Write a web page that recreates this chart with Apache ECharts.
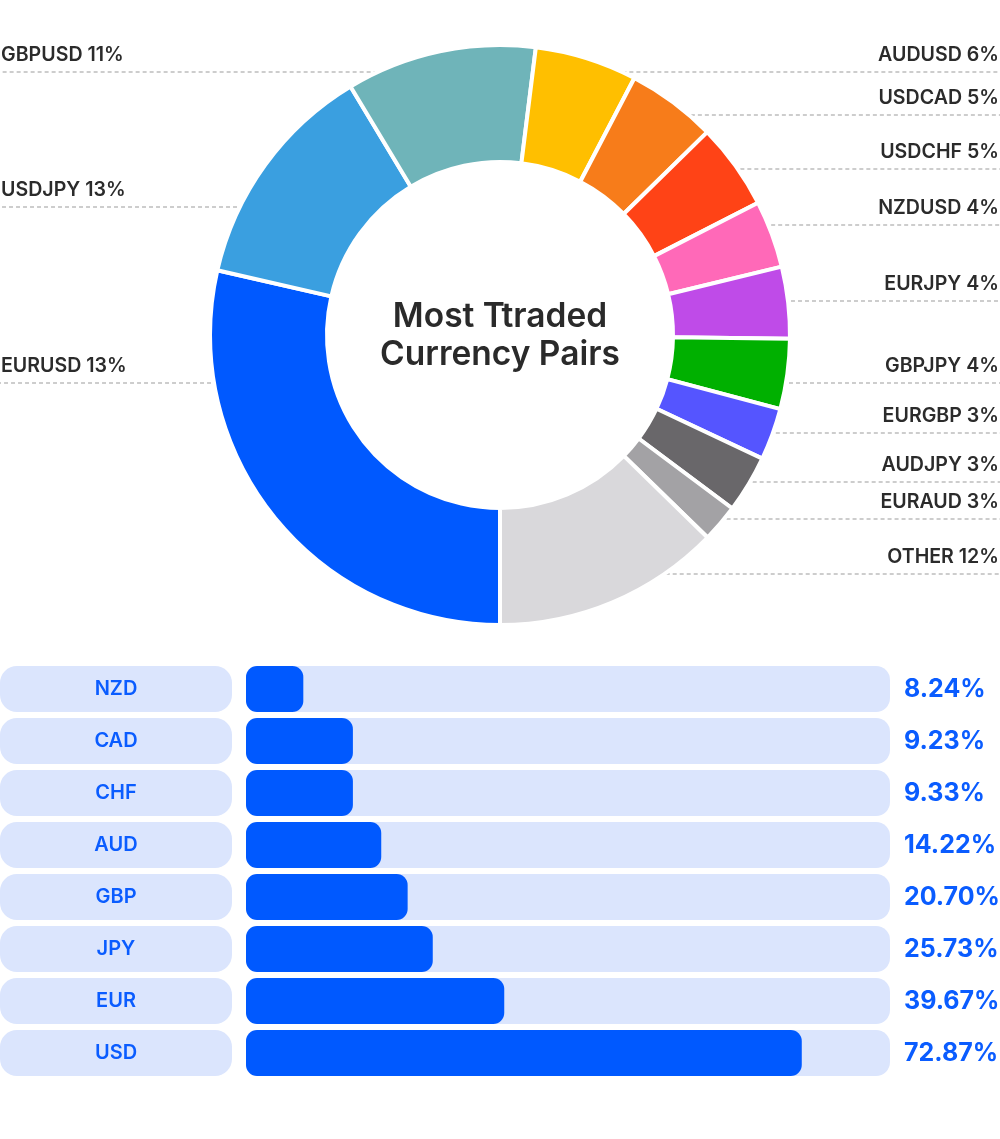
<!DOCTYPE html>
<html>
<head>
<meta charset="utf-8">
<title>Most Traded Currency Pairs</title>
<script src="https://cdn.jsdelivr.net/npm/echarts@6/dist/echarts.min.js"></script>
<style>
    html, body { margin: 0; padding: 0; background: #ffffff; }
    #chart { width: 1000px; height: 1139px; }
</style>
</head>
<body>
<div id="chart"></div>
<script>
// donut: share of each pair
const pairNames = ["EURUSD", "USDJPY", "GBPUSD", "AUDUSD", "USDCAD", "USDCHF", "NZDUSD",
    "EURJPY", "GBPJPY", "EURGBP", "AUDJPY", "EURAUD", "OTHER"];
const pairShares = [28.6, 12.8, 10.6, 5.7, 5.0, 4.8, 3.75, 4.0, 3.9, 2.9, 3.2, 2.1, 12.7];
// percentages printed next to each pair
const pairLabels = [13, 13, 11, 6, 5, 5, 4, 4, 4, 3, 3, 3, 12];
const pairColors = ["#0059ff", "#3a9fe0", "#6fb4b9", "#ffbf00", "#f77c1a", "#ff4316", "#ff69b8",
    "#bf4be8", "#00b000", "#5555ff", "#69676a", "#a3a2a5", "#d9d8db"];

// bars: currencies
const currencies = ["NZD", "CAD", "CHF", "AUD", "GBP", "JPY", "EUR", "USD"];
const barLengths = [8.9, 16.6, 16.6, 21.0, 25.1, 29.0, 40.1, 86.3];
const currencyLabels = ["8.24%", "9.23%", "9.33%", "14.22%", "20.70%", "25.73%", "39.67%", "72.87%"];

const PIE_CX = 500;
const PIE_CY = 335;
const PIE_R = 288;
// height of each dashed leader line, in data order
const leaderY = [383, 207, 72, 72, 115, 169, 225, 301, 383, 433, 482, 519, 574];

const FONT = "Inter, 'Noto Sans', sans-serif";
const BLUE = "#0a5cff";
const PALE = "#dbe5fd";

const chart = echarts.init(document.getElementById("chart"), null, { renderer: "canvas" });

chart.setOption({
    backgroundColor: "#ffffff",
    textStyle: { fontFamily: FONT },
    animation: false,
    title: {
        text: "Most Ttraded\nCurrency Pairs",
        left: PIE_CX,
        top: 298,
        padding: 0,
        textAlign: "center",
        textStyle: {
            fontFamily: FONT,
            fontSize: 33.5,
            fontWeight: 600,
            lineHeight: 38,
            color: "#2a2a2a"
        }
    },
    grid: {
        left: 246,
        right: 110,
        top: 663,
        height: 416,
        outerBoundsMode: "none"
    },
    xAxis: {
        type: "value",
        min: 0,
        max: 100,
        show: false
    },
    yAxis: [
        {
            type: "category",
            inverse: true,
            data: currencies,
            axisLine: { show: false },
            axisTick: { show: false },
            axisLabel: {
                margin: 14,
                formatter: value => `{pill|${value}}`,
                rich: {
                    pill: {
                        width: 232,
                        height: 46,
                        align: "center",
                        backgroundColor: PALE,
                        borderRadius: 17,
                        color: BLUE,
                        fontFamily: FONT,
                        fontSize: 20,
                        fontWeight: 600
                    }
                }
            }
        },
        {
            type: "category",
            inverse: true,
            position: "right",
            data: currencies,
            axisLine: { show: false },
            axisTick: { show: false },
            axisLabel: {
                margin: 14,
                formatter: (value, index) => currencyLabels[index],
                color: BLUE,
                fontFamily: FONT,
                fontSize: 25,
                fontWeight: 700
            }
        }
    ],
    series: [
        {
            name: "Pairs",
            type: "pie",
            center: [PIE_CX, PIE_CY],
            radius: [173, PIE_R + 2],
            startAngle: -90,
            clockwise: true,
            avoidLabelOverlap: false,
            itemStyle: {
                borderColor: "#ffffff",
                borderWidth: 4
            },
            label: {
                show: true,
                position: "outside",
                formatter: params => `${params.name} ${pairLabels[params.dataIndex]}%`,
                color: "#2b2b2b",
                fontFamily: FONT,
                fontSize: 19.6,
                fontWeight: 600
            },
            labelLine: {
                show: true,
                length: 4,
                length2: 4,
                lineStyle: {
                    color: "#bdbdbd",
                    width: 1.3,
                    type: [4, 3]
                }
            },
            labelLayout: params => {
                const y = leaderY[params.dataIndex];
                const dy = y - PIE_CY;
                const dx = Math.sqrt(Math.max(PIE_R * PIE_R - dy * dy, 0)) + 5;
                const isLeft = params.labelRect.x + params.labelRect.width / 2 < PIE_CX;
                const x0 = isLeft ? PIE_CX - dx : PIE_CX + dx;

                return {
                    x: isLeft ? 1 : 999,
                    y: y - 7,
                    align: isLeft ? "left" : "right",
                    verticalAlign: "bottom",
                    labelLinePoints: [[x0, y], [x0, y], [isLeft ? 0 : 1000, y]]
                };
            },
            emphasis: { disabled: true },
            data: pairNames.map((name, i) => ({
                name,
                value: pairShares[i],
                itemStyle: { color: pairColors[i] }
            }))
        },
        {
            name: "Currencies",
            type: "bar",
            barWidth: 46,
            showBackground: true,
            backgroundStyle: {
                color: PALE,
                borderRadius: 14
            },
            itemStyle: {
                color: "#0059ff",
                borderRadius: 11
            },
            data: barLengths
        }
    ]
});
</script>
</body>
</html>
